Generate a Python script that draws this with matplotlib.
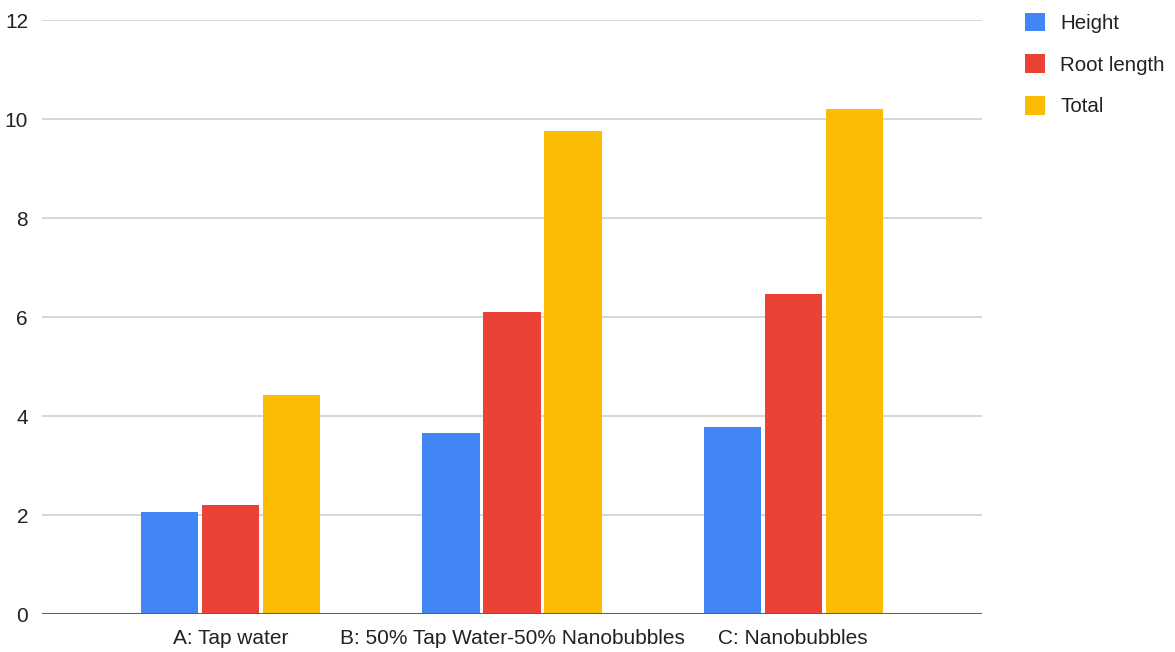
import matplotlib.pyplot as plt
import numpy as np

plt.rcParams['font.family'] = ['Liberation Sans', 'DejaVu Sans']

# tratamientos y medidas
categorias = ['A: Tap water', 'B: 50% Tap Water-50% Nanobubbles', 'C: Nanobubbles']
height = [2.06, 3.66, 3.78]
root_length = [2.20, 6.11, 6.46]
total = [4.42, 9.76, 10.21]

series = [('Height', height, '#4285F4'),
          ('Root length', root_length, '#EA4335'),
          ('Total', total, '#FBBC04')]

fig = plt.figure(figsize=(11.75, 6.52), dpi=100)
ax = fig.add_axes([42/1175, 37.7/652, 940/1175, 594.3/652])

x = np.arange(len(categorias))
ancho = 0.203
paso = 0.217
for i, (nombre, vals, color) in enumerate(series):
    ax.bar(x + (i-1)*paso, vals, width=ancho, color=color, label=nombre, zorder=3)

ax.set_xlim(-0.672, 2.672)
ax.set_ylim(0, 12)
ax.set_yticks(np.arange(0, 13, 2))
ax.set_xticks(x)
ax.set_xticklabels(categorias)
ax.grid(axis='y', color='#d6d6d6', lw=1.4, zorder=0)
ax.axhline(0, color='#5f5f5f', lw=2.2, zorder=4)
for s in ax.spines.values():
    s.set_visible(False)
ax.tick_params(axis='both', length=0, labelsize=15, colors='#222222')
ax.tick_params(axis='y', pad=10)
ax.tick_params(axis='x', pad=10.5)

fig.legend(loc='upper left', bbox_to_anchor=(1006/1175, 1 + 6/652), frameon=False,
           fontsize=14.8, handlelength=1.0, handleheight=1.0, handletextpad=0.75,
           labelspacing=1.05, labelcolor='#222222')

plt.savefig('out.png', dpi=100)
